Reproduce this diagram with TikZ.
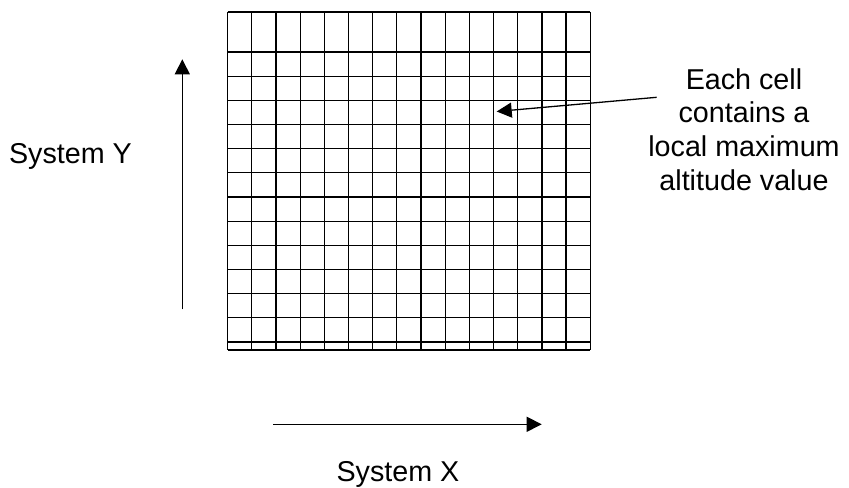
\documentclass[tikz,border=0pt]{standalone}
\usepackage{fontspec}
\setmainfont{Liberation Sans}
\usetikzlibrary{arrows.meta}
\tikzset{
  gridline/.style={line width=1.2bp, black},
  axisarrow/.style={line width=1.3bp, -{Triangle[length=15bp,width=15bp]}},
  lbl/.style={font=\fontsize{28.7bp}{33.7bp}\selectfont, inner sep=0pt, align=center}
}
\begin{document}
\begin{tikzpicture}[x=1bp,y=-1bp]
\useasboundingbox (0,0) rectangle (849,488);
% grid
\foreach \k in {0,...,15} {
  \draw[gridline] ({227.7+24.17*\k},12) -- ({227.7+24.17*\k},350);
}
\draw[gridline] (227.7,12) -- (590.2,12);
\foreach \k in {0,...,12} {
  \draw[gridline] (227.7,{52+24.17*\k}) -- (590.2,{52+24.17*\k});
}
\draw[gridline] (227.7,350) -- (590.2,350);
% labels
\node[lbl, anchor=base] (sy) at (70.5,163.3) {System Y};
\node[lbl, anchor=base] (sx) at (398,481.5) {System X};
\node[lbl, anchor=base] (note) at (744,190.4) {Each cell\\contains a\\local maximum\\altitude value};
% axis arrows
\coordinate (ya) at (182.3,309.3);
\coordinate (yb) at (182.3,59.3);
\draw[axisarrow] (ya) -- (yb);
\coordinate (xa) at (273.3,424.3);
\coordinate (xb) at (541.7,424.3);
\draw[axisarrow] (xa) -- (xb);
% callout
\coordinate (cs) at (656.7,97.3);
\coordinate (ct) at (496.7,111.5);
\draw[axisarrow] (cs) -- (ct);
\end{tikzpicture}
\end{document}
